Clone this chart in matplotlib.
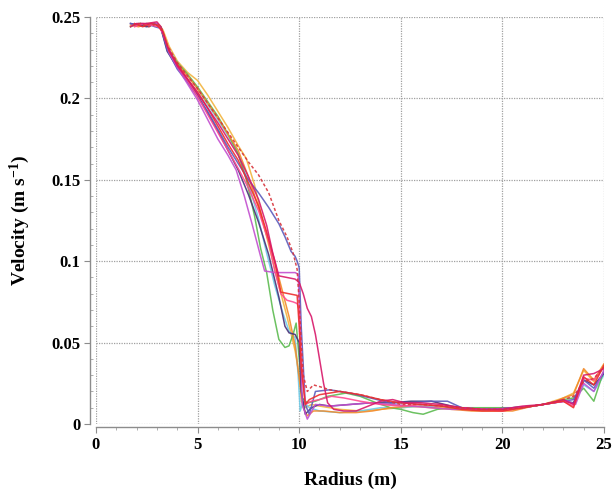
import numpy as np
import matplotlib
matplotlib.use("Agg")
import matplotlib.pyplot as plt
from matplotlib.ticker import MultipleLocator

plt.rcParams['font.family'] = ['Liberation Serif', 'DejaVu Serif']
plt.rcParams['font.weight'] = 'bold'
plt.rcParams['axes.labelweight'] = 'bold'
plt.rcParams['mathtext.fontset'] = 'custom'
plt.rcParams['mathtext.rm'] = 'Liberation Serif:bold'
plt.rcParams['mathtext.default'] = 'rm'

# Velocity profiles along the radius, one per run (m, m/s)
x_red_dash = [1.8, 2.2, 2.6, 3.0, 3.2, 3.5, 4.0, 4.5, 5.0, 5.5, 6.0, 6.5, 7.0, 7.5, 8.0, 8.5, 9.0, 9.4, 9.7, 9.9,
              10.0, 10.1, 10.2, 10.4, 10.7, 11.0, 11.5, 12.0, 13.0, 14.0, 15.0, 16.0, 17.0, 18.0, 19.0, 20.0,
              21.0, 22.0, 23.0, 23.5, 24.0, 24.5, 25.0]
y_red_dash = [.245, .246, .244, .246, .244, .233, .222, .214, .206, .197, .188, .179, .170, .161, .153, .142, .125,
              .115, .105, .095, .075, .050, .030, .020, .024, .023, .021, .020, .018, .015, .012, .012, .011, .010,
              .009, .009, .010, .012, .015, .017, .026, .028, .035]

x_slate = [1.7, 2.1, 2.5, 2.9, 3.2, 3.5, 4.0, 4.5, 5.0, 5.5, 6.0, 6.5, 7.0, 7.5, 8.0, 8.5, 9.0, 9.3, 9.6, 9.8,
           9.9, 10.0, 10.1, 10.3, 10.5, 10.8, 11.5, 12.5, 13.5, 14.5, 15.5, 16.5, 17.3, 18.0, 19.0, 20.0, 21.0,
           22.0, 23.0, 23.5, 24.0, 24.5, 25.0]
y_slate = [.246, .245, .246, .244, .243, .230, .218, .210, .201, .192, .181, .170, .160, .150, .142, .133, .123,
           .115, .106, .103, .100, .096, .060, .012, .006, .020, .021, .019, .016, .013, .013, .014, .014, .010,
           .009, .009, .010, .012, .014, .015, .027, .022, .032]

x_violet = [1.8, 2.2, 2.6, 3.0, 3.3, 3.6, 4.0, 4.5, 5.0, 5.5, 6.0, 6.5, 6.9, 7.3, 7.7, 8.1, 8.3, 8.8, 9.3, 9.8,
            9.95, 10.05, 10.15, 10.4, 10.8, 11.5, 12.5, 13.5, 14.5, 15.5, 16.5, 17.5, 18.5, 19.5, 20.5, 21.5,
            22.5, 23.2, 23.6, 24.0, 24.5, 25.0]
y_violet = [.245, .246, .245, .246, .240, .228, .219, .209, .199, .187, .175, .165, .156, .140, .122, .103, .094,
            .093, .093, .093, .092, .060, .012, .003, .012, .011, .012, .013, .012, .011, .010, .009, .009, .009,
            .010, .011, .013, .014, .012, .025, .020, .033]

x_crimson = [1.7, 2.0, 2.5, 3.0, 3.2, 3.5, 4.0, 4.5, 5.0, 5.5, 6.0, 6.5, 7.0, 7.5, 8.0, 8.4, 8.7, 9.0, 9.4, 9.8,
             10.0, 10.2, 10.4, 10.6, 10.8, 11.0, 11.2, 11.4, 11.7, 12.2, 12.8, 13.4, 14.0, 14.6, 15.2, 16.0,
             17.0, 18.0, 19.0, 20.0, 21.0, 22.0, 23.0, 23.5, 24.0, 24.5, 25.0]
y_crimson = [.244, .246, .246, .247, .244, .232, .220, .212, .203, .194, .185, .175, .165, .152, .138, .122, .105,
             .091, .090, .089, .087, .080, .071, .066, .055, .040, .025, .013, .009, .008, .008, .011, .014, .015,
             .013, .013, .012, .010, .009, .009, .011, .012, .015, .012, .030, .031, .034]

x_red = [1.9, 2.3, 2.7, 3.0, 3.3, 3.6, 4.0, 4.5, 5.0, 5.5, 6.0, 6.5, 7.0, 7.5, 8.0, 8.4, 8.8, 9.1, 9.5, 9.9,
         10.0, 10.1, 10.3, 10.5, 11.0, 12.0, 13.0, 14.0, 15.0, 16.0, 17.0, 18.0, 19.0, 20.0, 21.0, 22.0, 23.0,
         23.5, 24.0, 24.5, 25.0]
y_red = [.246, .244, .246, .245, .241, .229, .221, .212, .204, .194, .183, .172, .162, .148, .134, .118, .100,
         .081, .080, .079, .060, .035, .012, .015, .018, .020, .018, .015, .013, .012, .011, .009, .008, .008,
         .010, .012, .014, .010, .029, .024, .036]

x_orange = [1.7, 2.1, 2.5, 2.9, 3.2, 3.5, 4.0, 4.5, 5.0, 5.5, 6.0, 6.5, 7.0, 7.5, 8.0, 8.5, 9.0, 9.5, 9.8, 10.0,
            10.2, 10.4, 10.7, 11.2, 12.0, 12.8, 13.6, 14.5, 15.5, 16.5, 17.5, 18.5, 19.5, 20.5, 21.5, 22.5,
            23.0, 23.5, 24.0, 24.5, 25.0]
y_orange = [.245, .244, .246, .246, .243, .231, .221, .214, .206, .197, .188, .178, .168, .152, .133, .112, .090,
            .066, .048, .028, .010, .005, .008, .008, .007, .007, .008, .010, .011, .010, .009, .008, .008, .008,
            .011, .013, .016, .018, .034, .027, .037]

x_amber = [1.8, 2.2, 2.6, 3.0, 3.3, 3.6, 4.0, 4.5, 5.0, 5.5, 6.0, 6.5, 7.0, 7.4, 7.8, 8.2, 8.6, 9.0, 9.4, 9.8,
           10.0, 10.1, 10.3, 10.6, 11.0, 12.0, 13.0, 14.0, 15.0, 16.0, 17.0, 18.0, 19.0, 20.0, 21.0, 22.0,
           23.0, 23.5, 24.0, 24.5, 25.0]
y_amber = [.245, .246, .245, .246, .242, .232, .223, .216, .211, .202, .192, .182, .171, .163, .147, .125, .105,
           .085, .066, .045, .030, .014, .010, .012, .011, .009, .008, .009, .010, .011, .010, .009, .009, .009,
           .010, .012, .016, .019, .033, .026, .036]

x_green = [1.7, 2.1, 2.5, 2.9, 3.2, 3.5, 4.0, 4.5, 5.0, 5.5, 6.0, 6.5, 7.0, 7.4, 7.8, 8.1, 8.4, 8.7, 9.0, 9.3,
           9.5, 9.7, 9.85, 10.0, 10.15, 10.4, 10.8, 11.4, 12.3, 13.0, 13.8, 14.5, 15.0, 15.6, 16.1, 16.8, 17.5,
           18.5, 19.5, 20.5, 21.5, 22.5, 23.0, 23.5, 24.0, 24.5, 25.0]
y_green = [.244, .246, .245, .246, .244, .231, .222, .215, .207, .198, .189, .178, .166, .150, .128, .108, .093,
           .070, .052, .047, .048, .055, .062, .040, .016, .013, .014, .017, .019, .017, .013, .010, .009, .007,
           .006, .009, .010, .010, .010, .010, .011, .013, .015, .016, .022, .014, .033]

x_cyan = [1.8, 2.2, 2.6, 3.0, 3.2, 3.5, 4.0, 4.5, 5.0, 5.5, 6.0, 6.5, 7.0, 7.5, 8.0, 8.4, 8.8, 9.2, 9.5, 9.8,
          9.95, 10.05, 10.2, 10.5, 11.0, 12.0, 13.0, 14.0, 15.0, 16.0, 17.0, 18.0, 19.0, 20.0, 21.0, 22.0, 23.0,
          23.5, 24.0, 24.5, 25.0]
y_cyan = [.245, .246, .244, .246, .243, .232, .222, .214, .206, .196, .187, .177, .166, .148, .126, .105, .085,
          .068, .057, .053, .030, .008, .014, .010, .008, .007, .008, .010, .010, .011, .011, .010, .009, .009,
          .010, .012, .014, .013, .024, .020, .030]

x_indigo = [1.7, 2.1, 2.5, 2.9, 3.2, 3.5, 4.0, 4.5, 5.0, 5.5, 6.0, 6.5, 7.0, 7.5, 8.0, 8.5, 9.0, 9.3, 9.5, 9.8,
            10.0, 10.1, 10.3, 10.6, 11.0, 11.5, 12.5, 13.5, 14.5, 15.5, 16.5, 17.5, 18.5, 19.5, 20.5, 21.5,
            22.5, 23.0, 23.5, 24.0, 24.5, 25.0]
y_indigo = [.246, .245, .244, .246, .243, .229, .219, .211, .202, .191, .180, .168, .156, .141, .124, .104, .078,
            .060, .056, .055, .050, .020, .006, .010, .012, .011, .012, .013, .013, .014, .014, .011, .009, .009,
            .010, .011, .013, .014, .013, .027, .024, .031]

x_pink = [1.9, 2.3, 2.7, 3.1, 3.3, 3.6, 4.0, 4.5, 5.0, 5.5, 6.0, 6.5, 7.0, 7.5, 8.0, 8.5, 8.8, 9.1, 9.4, 9.7,
          9.9, 10.0, 10.1, 10.3, 10.6, 11.0, 11.6, 12.2, 13.0, 14.0, 15.0, 16.0, 17.0, 18.0, 19.0, 20.0, 21.0,
          22.0, 23.0, 23.5, 24.0, 24.5, 25.0]
y_pink = [.244, .246, .245, .244, .240, .230, .220, .211, .201, .190, .179, .168, .157, .145, .131, .112, .094,
          .080, .076, .075, .074, .070, .040, .012, .014, .015, .017, .016, .014, .012, .011, .012, .011, .010,
          .009, .008, .010, .012, .014, .011, .028, .027, .035]

x_ticks = [0, 5, 10, 15, 20, 25]
y_ticks = [0, 0.05, 0.1, 0.15, 0.2, 0.25]
y_tick_labels = ['0', '0.05', '0.1', '0.15', '0.2', '0.25']

series = [
    (x_amber, y_amber, '#f2b43e', '-'),
    (x_cyan, y_cyan, '#6fcbe8', '-'),
    (x_green, y_green, '#5cbb50', '-'),
    (x_orange, y_orange, '#f28a2a', '-'),
    (x_indigo, y_indigo, '#4a3178', '-'),
    (x_slate, y_slate, '#5c5cbc', '-'),
    (x_violet, y_violet, '#c24fcf', '-'),
    (x_pink, y_pink, '#ff4a90', '-'),
    (x_red, y_red, '#ee2d2d', '-'),
    (x_crimson, y_crimson, '#d8186a', '-'),
    (x_red_dash, y_red_dash, '#d8343c', (0, (2, 1.5))),
]

fig = plt.figure(figsize=(6.16, 4.94), dpi=100)
ax = fig.add_axes([0.1558, 0.1417, 0.8247, 0.8239])

for xs, ys, col, ls in series:
    ax.plot(xs, ys, color=col, linestyle=ls, linewidth=1.1, alpha=0.9)

ax.set_xlim(0, 25)
ax.set_ylim(0, 0.25)
ax.set_xticks(x_ticks)
ax.set_xticklabels([str(t) for t in x_ticks])
ax.set_yticks(y_ticks)
ax.set_yticklabels(y_tick_labels)
ax.xaxis.set_minor_locator(MultipleLocator(1))
ax.yaxis.set_minor_locator(MultipleLocator(0.01))

ax.grid(True, which='major', color='#a0a0a0', linestyle=(0, (1, 1)), linewidth=0.9)
for g in ax.get_xgridlines() + ax.get_ygridlines():
    g.set_clip_on(False)

for side in ['top', 'right']:
    ax.spines[side].set_visible(False)
ax.spines['left'].set_position(('outward', 4))
ax.spines['bottom'].set_position(('outward', 2))
for side in ['left', 'bottom']:
    ax.spines[side].set_color('#8c8c8c')
    ax.spines[side].set_linewidth(1.0)

ax.tick_params(which='major', length=4, color='#8c8c8c', labelsize=12, pad=3)
ax.tick_params(axis='x', which='minor', length=2.5, color='#a0a0a0', direction='out')
ax.tick_params(axis='y', which='minor', length=2.5, color='#a0a0a0', direction='in')

ax.set_xlabel('Radius (m)', fontsize=14, labelpad=14)
ax.set_ylabel(r'Velocity (m s$^{-1}$)', fontsize=14, labelpad=14)

fig.savefig('out.png', dpi=100)
